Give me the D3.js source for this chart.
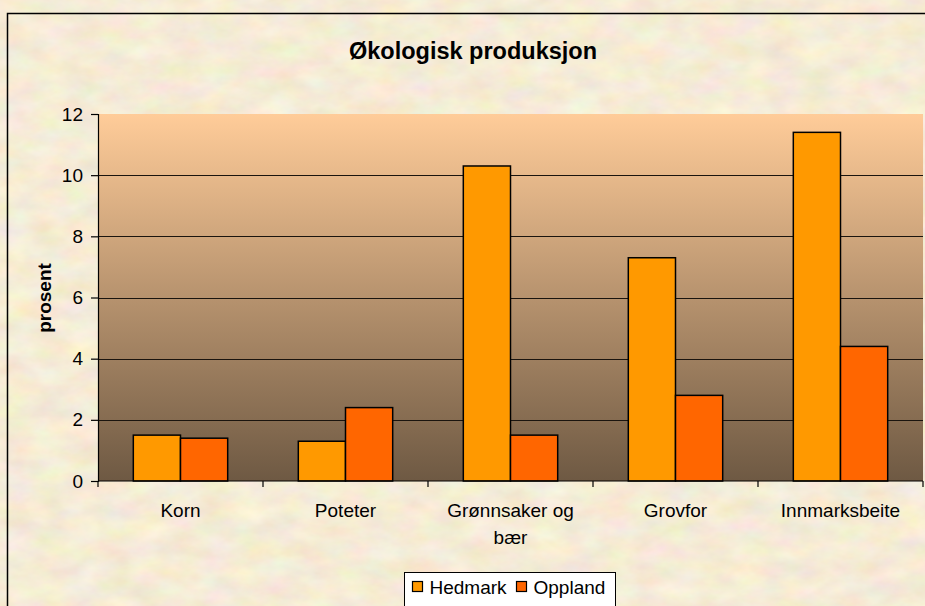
<!DOCTYPE html>
<html>
<head>
<meta charset="utf-8">
<script src="https://cdn.jsdelivr.net/npm/d3@7/dist/d3.min.js"></script>
<style>
  html, body { margin: 0; padding: 0; background: #EEDFBC; overflow: hidden; }
  svg { display: block; font-family: Arial, "Liberation Sans", sans-serif; }
</style>
</head>
<body>
<div id="chart"></div>
<script>
// Økologisk produksjon — grouped bar chart, Hedmark vs Oppland

var categories = ['Korn', 'Poteter', 'Grønnsaker og bær', 'Grovfor', 'Innmarksbeite'];
var seriesNames = ['Hedmark', 'Oppland'];
var hedmark = [1.5, 1.3, 10.3, 7.3, 11.4];
var oppland = [1.4, 2.4, 1.5, 2.8, 4.4];
var yTicks = [0, 2, 4, 6, 8, 10, 12];

var W = 925, H = 606;
var COLORS = { Hedmark: '#FF9900', Oppland: '#FF6600' };
var FONT = 19;

var margin = { left: 98, right: 2, top: 114, bottom: 125 };
var plotW = W - margin.left - margin.right;
var plotH = H - margin.top - margin.bottom;

var svg = d3.select('#chart').append('svg')
  .attr('width', W)
  .attr('height', H);

var defs = svg.append('defs');

// parchment texture
var f = defs.append('filter').attr('id', 'paper')
  .attr('x', 0).attr('y', 0).attr('width', '100%').attr('height', '100%');
f.append('feTurbulence')
  .attr('type', 'fractalNoise')
  .attr('baseFrequency', '0.03 0.05')
  .attr('numOctaves', 4)
  .attr('seed', 11)
  .attr('result', 'noise');
f.append('feColorMatrix')
  .attr('in', 'noise')
  .attr('type', 'matrix')
  .attr('values', '0.20 0 0 0.05 0.79  0 0.22 0 0.05 0.70  0 0 0.26 0.08 0.50  0 0 0 0 1');

var grad = defs.append('linearGradient').attr('id', 'plotGrad')
  .attr('x1', 0).attr('y1', 0).attr('x2', 0).attr('y2', 1);
grad.append('stop').attr('offset', '0%').attr('stop-color', '#FFCC99');
grad.append('stop').attr('offset', '100%').attr('stop-color', '#6E5943');

svg.append('rect')
  .attr('width', W).attr('height', H)
  .attr('filter', 'url(#paper)');

// chart frame (continues past the window on the right and bottom)
svg.append('rect')
  .attr('x', 7.5).attr('y', 13.5)
  .attr('width', W + 20).attr('height', H + 20)
  .attr('fill', 'none')
  .attr('stroke', '#000')
  .attr('stroke-width', 1.5);

// title
svg.append('text')
  .attr('x', 473).attr('y', 59)
  .attr('text-anchor', 'middle')
  .style('font-size', '23.5px')
  .style('font-weight', 'bold')
  .text('Økologisk produksjon');

var g = svg.append('g').attr('transform', 'translate(' + margin.left + ',' + margin.top + ')');

var x0 = d3.scaleBand().domain(categories).range([0, plotW]).padding(0);
var x1 = d3.scaleBand().domain(seriesNames)
  .range([x0.bandwidth() * 0.214, x0.bandwidth() * 0.786]).padding(0);
var y = d3.scaleLinear().domain([0, 12]).range([plotH, 0]);

g.append('rect')
  .attr('width', plotW).attr('height', plotH)
  .attr('fill', 'url(#plotGrad)');

// gridlines
g.append('g')
  .selectAll('line')
  .data(yTicks.filter(function(d){ return d > 0 && d < 12; }))
  .enter().append('line')
  .attr('x1', 0).attr('x2', plotW)
  .attr('y1', function(d){ return Math.round(y(d)) + 0.5; })
  .attr('y2', function(d){ return Math.round(y(d)) + 0.5; })
  .attr('stroke', '#1a140e')
  .attr('stroke-width', 1.2);

// bars
var rows = categories.map(function(c, i){
  return { cat: c, values: [
    { name: 'Hedmark', v: hedmark[i] },
    { name: 'Oppland', v: oppland[i] }
  ] };
});

g.append('g').selectAll('g')
  .data(rows)
  .enter().append('g')
  .attr('transform', function(d){ return 'translate(' + x0(d.cat) + ',0)'; })
  .selectAll('rect')
  .data(function(d){ return d.values; })
  .enter().append('rect')
  .attr('x', function(d){ return x1(d.name); })
  .attr('width', x1.bandwidth())
  .attr('y', function(d){ return y(d.v); })
  .attr('height', function(d){ return y(0) - y(d.v); })
  .attr('fill', function(d){ return COLORS[d.name]; })
  .attr('stroke', '#000')
  .attr('stroke-width', 1.5);

// y axis
var yAxis = g.append('g')
  .call(d3.axisLeft(y).tickValues(yTicks).tickSize(7).tickPadding(8));
yAxis.select('.domain').attr('stroke', '#000').attr('stroke-width', 1.2);
yAxis.selectAll('line').attr('stroke', '#000').attr('stroke-width', 1.2);
yAxis.selectAll('text').style('font-size', FONT + 'px').attr('fill', '#000');

// x axis: ticks at category boundaries
var xAxisG = g.append('g').attr('transform', 'translate(0,' + plotH + ')');
xAxisG.append('line')
  .attr('x1', 0).attr('x2', plotW)
  .attr('stroke', '#000').attr('stroke-width', 1.2);
xAxisG.selectAll('.bound')
  .data(categories.concat(['end']))
  .enter().append('line')
  .attr('x1', function(d, i){ return i * x0.step(); })
  .attr('x2', function(d, i){ return i * x0.step(); })
  .attr('y1', 0).attr('y2', 6)
  .attr('stroke', '#000').attr('stroke-width', 1.2);

function wrapWords(text, maxW, fontSize){
  var words = text.split(' ');
  var lines = [], cur = '';
  var probe = svg.append('text').style('font-size', fontSize + 'px');
  words.forEach(function(w){
    var t = cur ? cur + ' ' + w : w;
    probe.text(t);
    if(cur && probe.node().getComputedTextLength() > maxW){
      lines.push(cur); cur = w;
    } else cur = t;
  });
  lines.push(cur);
  probe.remove();
  return lines;
}

xAxisG.selectAll('.cat')
  .data(categories)
  .enter().append('text')
  .attr('class', 'cat')
  .attr('text-anchor', 'middle')
  .style('font-size', FONT + 'px')
  .each(function(d){
    var t = d3.select(this);
    wrapWords(d, x0.bandwidth() * 0.9, FONT).forEach(function(line, i){
      t.append('tspan')
        .attr('x', x0(d) + x0.bandwidth() / 2)
        .attr('y', 36 + i * 27)
        .text(line);
    });
  });

// y label
svg.append('text')
  .attr('transform', 'translate(51,298) rotate(-90)')
  .attr('text-anchor', 'middle')
  .style('font-size', FONT + 'px')
  .style('font-weight', 'bold')
  .text('prosent');

// legend
var legend = svg.append('g').attr('transform', 'translate(404.5,572.5)');
legend.append('rect')
  .attr('width', 211).attr('height', 50)
  .attr('fill', '#fff')
  .attr('stroke', '#000')
  .attr('stroke-width', 1);
var items = [
  { name: 'Hedmark', x: 8 },
  { name: 'Oppland', x: 112 }
];
items.forEach(function(it){
  legend.append('rect')
    .attr('x', it.x).attr('y', 9)
    .attr('width', 10).attr('height', 10)
    .attr('fill', COLORS[it.name])
    .attr('stroke', '#000')
    .attr('stroke-width', 1.2);
  legend.append('text')
    .attr('x', it.x + 17).attr('y', 21)
    .style('font-size', FONT + 'px')
    .text(it.name);
});
</script>
</body>
</html>
